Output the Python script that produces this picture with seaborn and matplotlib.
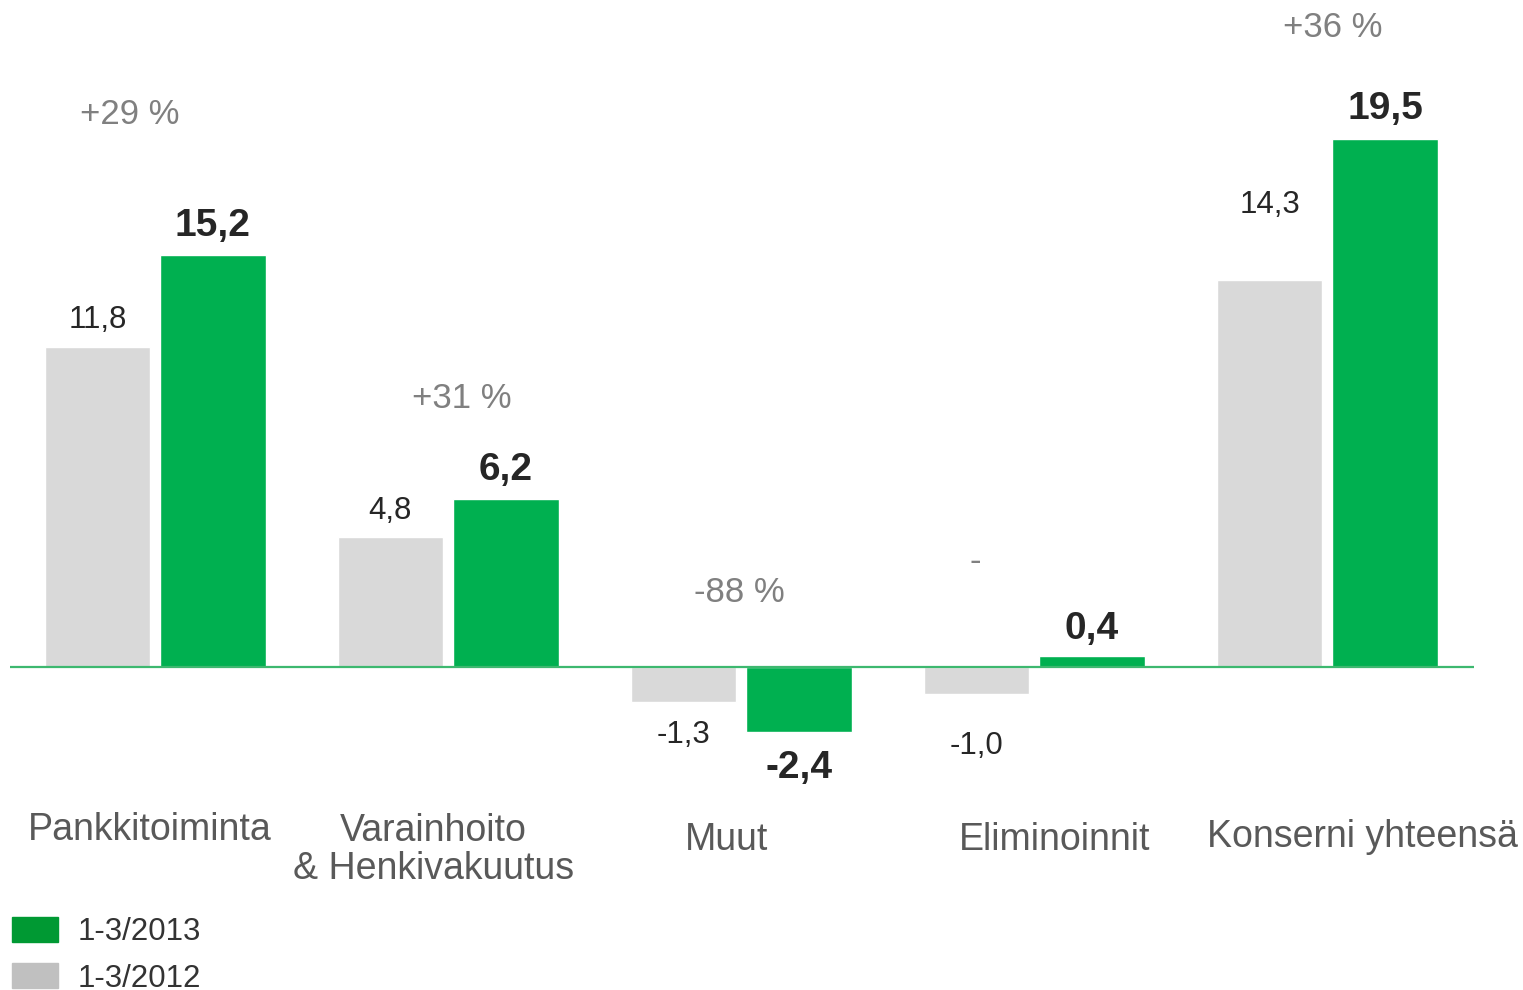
import pandas as pd
import seaborn as sns
import matplotlib.pyplot as plt
from matplotlib.patches import Patch

categories = ['Pankkitoiminta', 'Varainhoito\n& Henkivakuutus', 'Muut',
              'Eliminoinnit', 'Konserni yhteensä']
v2012 = [11.8, 4.8, -1.3, -1.0, 14.3]
v2013 = [15.2, 6.2, -2.4, 0.4, 19.5]
changes = ['+29 %', '+31 %', '-88 %', '-', '+36 %']
series = ['1-3/2012', '1-3/2013']

df = pd.DataFrame({
    'cat': categories * 2,
    'period': [series[0]] * 5 + [series[1]] * 5,
    'value': v2012 + v2013,
})

sns.set_style('white')
plt.rcParams['font.family'] = ['Liberation Sans', 'DejaVu Sans']

fig = plt.figure(figsize=(15.23, 9.9), dpi=100)
ax = fig.add_axes([10 / 1523, 190 / 990, 1464 / 1523, 800 / 990])

sns.barplot(data=df, x='cat', y='value', hue='period', hue_order=series,
            palette={series[0]: '#D9D9D9', series[1]: '#00B050'},
            saturation=1, width=0.788, gap=0.086, legend=False, ax=ax)

ax.set_xlim(-0.495, 4.5)
ax.set_ylim(-4.91, 24.63)
ax.axhline(0, color='#3DB86F', lw=1.6, zorder=5)
ax.set_xticks([])
ax.set_yticks([])
ax.set_xlabel('')
ax.set_ylabel('')
sns.despine(ax=ax, left=True, bottom=True)

# value labels (offsets in pixels from bar end)
off_2012 = [27, 26, -33, -52, 75]
off_2013 = [29, 29, -36, 27, 30]
for cont, offs, vals, bold in [(ax.containers[0], off_2012, v2012, False),
                               (ax.containers[1], off_2013, v2013, True)]:
    for bar, off, v in zip(cont, offs, vals):
        x = bar.get_x() + bar.get_width() / 2
        ax.annotate(f'{v:.1f}'.replace('.', ','), (x, v),
                    xytext=(0, off * 0.72), textcoords='offset points',
                    ha='center', va='center', color='#262626',
                    fontsize=23 if bold else 22.5,
                    fontweight='bold' if bold else 'normal')
for t in ax.texts:
    if t.get_fontweight() == 'bold':
        t.set_fontsize(28)

# change labels
pct_x = [-0.085, 1.048, 1.993, 2.80, 4.017]
pct_y = [20.4, 9.9, 2.77, 3.88, 23.6]
for x, y, t in zip(pct_x, pct_y, changes):
    ax.text(x, y, t, ha='center', va='center', color='#808080', fontsize=25)

# category labels
lab_x = [-0.017, 0.949, 1.949, 3.07, 4.12]
lab_y = [-6.02, -6.75, -6.39, -6.39, -6.28]
for x, y, t in zip(lab_x, lab_y, categories):
    ax.text(x, y, t, ha='center', va='center', color='#595959',
            fontsize=27, linespacing=1.05, clip_on=False)

handles = [Patch(color='#009933', label=series[1]),
           Patch(color='#C0C0C0', label=series[0])]
fig.legend(handles=handles, loc='upper left',
           bbox_to_anchor=(12 / 1523, 1 - 917 / 990), frameon=False,
           fontsize=22.5, handlelength=1.47, handleheight=0.87,
           handletextpad=0.64, labelspacing=0.5, borderpad=0,
           borderaxespad=0, labelcolor='#333333')

fig.savefig('out.png', dpi=100)
